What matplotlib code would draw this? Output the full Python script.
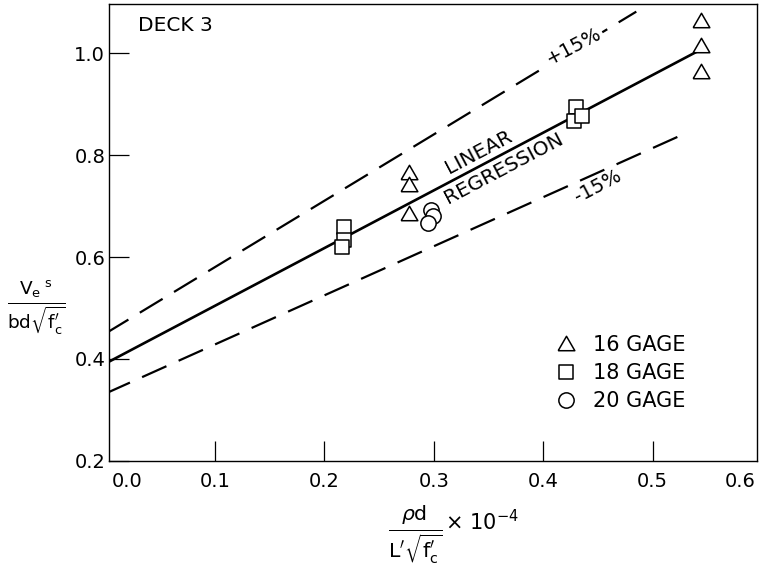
import numpy as np
import matplotlib
matplotlib.use('Agg')
import matplotlib.pyplot as plt
from matplotlib.markers import MarkerStyle

plt.rcParams['font.family'] = ['DejaVu Sans']
plt.rcParams['mathtext.fontset'] = 'dejavusans'

# test points
gage16_x = [0.277, 0.277, 0.277, 0.544, 0.544, 0.544]
gage16_y = [0.767, 0.744, 0.687, 1.066, 1.016, 0.966]
gage18_x = [0.218, 0.218, 0.216, 0.430, 0.428, 0.435]
gage18_y = [0.659, 0.634, 0.620, 0.894, 0.868, 0.877]
gage20_x = [0.297, 0.299, 0.295]
gage20_y = [0.693, 0.680, 0.667]

# regression and +/-15 % lines (end points)
reg_x = [0.0, 0.540]
reg_y = [0.391, 1.003]
plus_x = [0.0, 0.485]
plus_y = [0.450, 1.082]
minus_x = [0.0, 0.531]
minus_y = [0.332, 0.844]

x_tick_labels = ['0.0', '0.1', '0.2', '0.3', '0.4', '0.5', '0.6']
x_tick_pos = [0.02, 0.1, 0.2, 0.3, 0.4, 0.5, 0.58]
y_ticks = [0.2, 0.4, 0.6, 0.8, 1.0]

fig = plt.figure(figsize=(7.64, 5.79), dpi=100)
ax = fig.add_axes([0.1431, 0.2043, 0.8473, 0.7888])

ax.plot(reg_x, reg_y, color='black', lw=1.9, solid_capstyle='butt')
for xs, ys in [(plus_x, plus_y), (minus_x, minus_y)]:
    ln, = ax.plot(xs, ys, color='black', lw=1.6)
    ln.set_dashes((12.0, 6.0))

# equilateral triangle, rounded corners like the drafted symbols
tri = MarkerStyle([(-1, -0.866), (1, -0.866), (0, 0.866), (-1, -0.866)],
                  joinstyle='round')
sq = MarkerStyle('s', joinstyle='round')
mk = dict(ls='none', mfc='white', mec='black', mew=1.1)
ax.plot(gage16_x, gage16_y, marker=tri, ms=12, label='16 GAGE', **mk)
ax.plot(gage18_x, gage18_y, marker=sq, ms=10, label='18 GAGE', **mk)
ax.plot(gage20_x, gage20_y, marker='o', ms=11, label='20 GAGE', **mk)

ax.set_xlim(0.0034, 0.595)
ax.set_ylim(0.2, 1.097)
ax.set_xticks(x_tick_pos)
ax.set_xticklabels(x_tick_labels)
ax.set_yticks(y_ticks)
ax.set_yticklabels(['%.1f' % v for v in y_ticks])
ax.tick_params(direction='in', length=14.5, width=0.9, labelsize=14)
ax.tick_params(axis='x', pad=8)
ax.tick_params(axis='y', pad=3)
xt = ax.xaxis.get_major_ticks()
xt[0].tick1line.set_visible(False)
xt[-1].tick1line.set_visible(False)
for s in ax.spines.values():
    s.set_linewidth(1.0)

ax.text(0.0443, 0.952, 'DECK 3', transform=ax.transAxes, fontsize=14.5,
        ha='left', va='center')

ang = 27.8
ax.text(0.341, 0.806, 'LINEAR', fontsize=14.5, rotation=ang,
        ha='center', va='center', rotation_mode='anchor')
ax.text(0.3637, 0.7735, 'REGRESSION', fontsize=14.5, rotation=ang,
        ha='center', va='center', rotation_mode='anchor')
ax.text(0.428, 1.015, '+15%', fontsize=14, rotation=ang,
        ha='center', va='center', rotation_mode='anchor',
        bbox=dict(facecolor='white', edgecolor='none', pad=1.0), zorder=5)
ax.text(0.450, 0.739, '-15%', fontsize=14, rotation=ang,
        ha='center', va='center', rotation_mode='anchor')

ax.legend(loc='upper left', bbox_to_anchor=(0.689, 0.276), frameon=False,
          numpoints=1, handlelength=1.0, handletextpad=0.8,
          labelspacing=0.4, borderpad=0, borderaxespad=0, fontsize=15)

ax.set_ylabel(r'$\frac{\mathrm{V_{e}}^{\ \mathrm{s}}}{\mathrm{bd}\sqrt{\mathrm{f}^{\prime}_{\mathrm{c}}}}$',
              rotation=0, fontsize=19, ha='center', va='center')
ax.yaxis.set_label_coords(-0.112, 0.334)
ax.set_xlabel(r'$\frac{\rho\mathrm{d}}{\mathrm{L}^{\prime}\sqrt{\mathrm{f}^{\prime}_{\mathrm{c}}}}$',
              fontsize=21, ha='center', va='center')
ax.xaxis.set_label_coords(0.472, -0.162)
fig.text(0.5825, 0.0846, r'$\times\ 10^{-4}$', fontsize=15,
         ha='left', va='baseline')

fig.savefig('out.png', dpi=100)
